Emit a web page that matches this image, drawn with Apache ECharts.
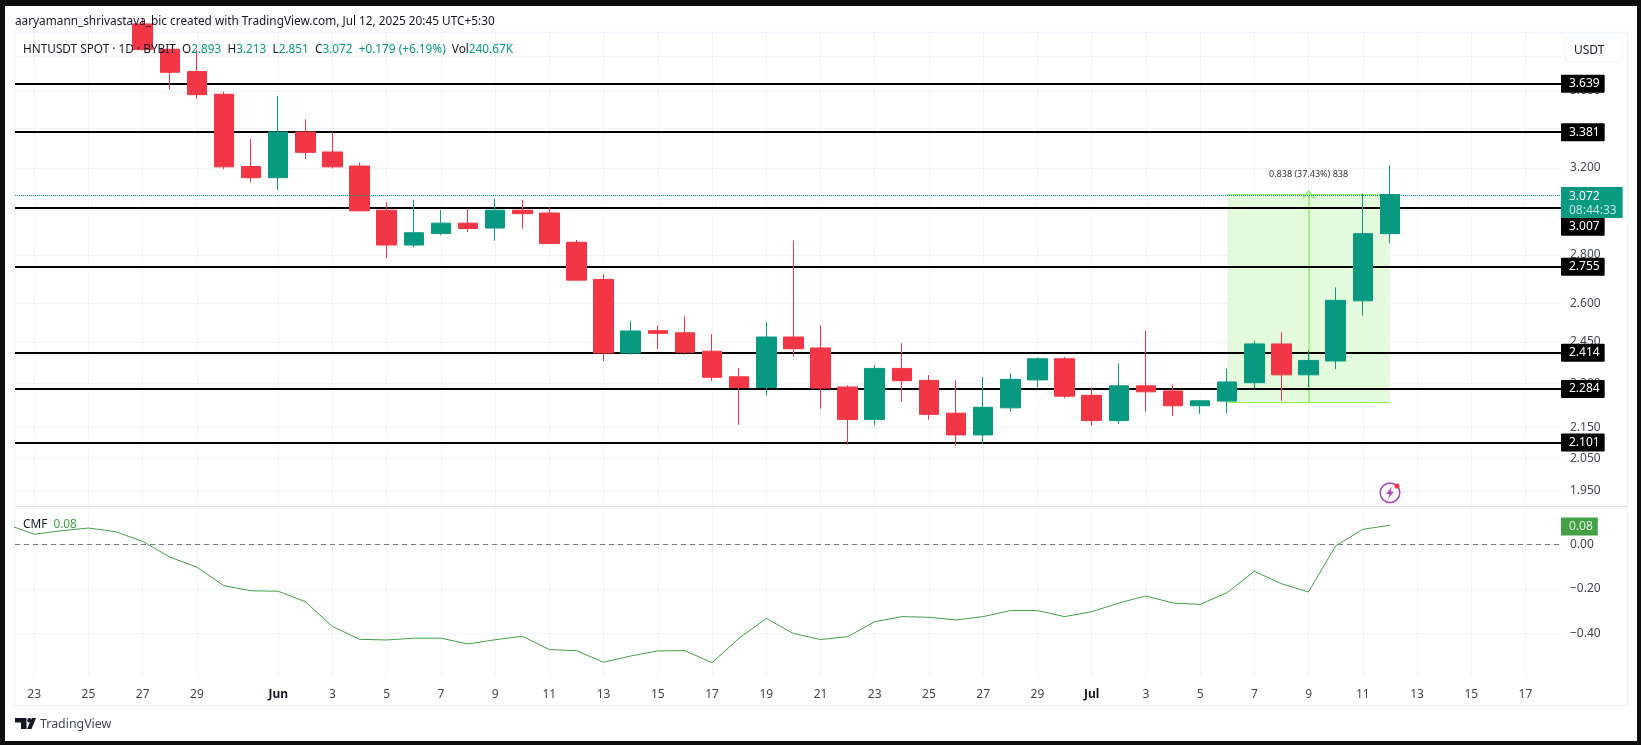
<!DOCTYPE html>
<html>
<head>
<meta charset="utf-8">
<style>html,body{margin:0;padding:0;background:#fff}#chart{width:1641px;height:745px}</style>
<script src="https://cdn.jsdelivr.net/npm/echarts@6/dist/echarts.min.js"></script>
</head>
<body>
<div id="chart"></div>
<script>
// days on the x axis, index 0 is May 22
var dates = ['May 22','May 23','May 24','May 25','May 26','May 27','May 28','May 29','May 30','May 31',
  'Jun 1','Jun 2','Jun 3','Jun 4','Jun 5','Jun 6','Jun 7','Jun 8','Jun 9','Jun 10','Jun 11','Jun 12','Jun 13','Jun 14','Jun 15',
  'Jun 16','Jun 17','Jun 18','Jun 19','Jun 20','Jun 21','Jun 22','Jun 23','Jun 24','Jun 25','Jun 26','Jun 27','Jun 28','Jun 29','Jun 30',
  'Jul 1','Jul 2','Jul 3','Jul 4','Jul 5','Jul 6','Jul 7','Jul 8','Jul 9','Jul 10','Jul 11','Jul 12'];
var tickDays = [1,3,5,7,10,12,14,16,18,20,22,24,26,28,30,32,34,36,38,40,42,44,46,48,50,52,54,56];
var tickLabels = ['23','25','27','29','Jun','3','5','7','9','11','13','15','17','19','21','23','25','27','29','Jul','3','5','7','9','11','13','15','17'];

// candles start on May 27, earlier ones are above the visible range
var firstCandleDay = dates.indexOf('May 27');
var opens = [3.99,3.838,3.709,3.582,3.207,
  3.152,3.381,3.279,3.209,2.999,2.843,2.894,2.94,2.918,2.999,2.986,2.855,2.697,2.409,2.493,2.485,2.416,2.323,2.285,2.469,2.428,2.287,2.176,2.353,2.31,2.197,2.125,2.215,2.312,2.388,
  2.258,2.172,2.291,2.273,2.222,2.238,2.302,2.443,2.33,2.38,2.61,2.893];
var closes = [3.836,3.705,3.58,3.205,3.152,
  3.381,3.277,3.205,2.996,2.843,2.897,2.94,2.916,2.999,2.983,2.85,2.694,2.409,2.492,2.483,2.412,2.321,2.285,2.469,2.425,2.283,2.176,2.353,2.309,2.193,2.125,2.217,2.314,2.388,2.255,
  2.172,2.291,2.27,2.222,2.239,2.3045,2.443,2.33,2.382,2.612,2.893,3.072];
var lows = [3.836,3.61,3.557,3.193,3.128,
  3.094,3.243,3.197,2.996,2.786,2.833,2.887,2.901,2.862,2.915,2.85,2.694,2.38,2.403,2.424,2.403,2.308,2.158,2.258,2.395,2.212,2.093,2.158,2.236,2.175,2.09,2.096,2.202,2.285,2.248,
  2.154,2.161,2.202,2.188,2.195,2.197,2.281,2.239,2.287,2.35,2.551,2.851];
var highs = [4.02,3.84,3.834,3.597,3.345,
  3.573,3.447,3.38,3.226,3.036,3.047,2.999,3.007,3.052,3.047,3.012,2.865,2.718,2.531,2.514,2.549,2.48,2.355,2.5265,2.862,2.514,2.293,2.365,2.445,2.329,2.312,2.322,2.336,2.393,2.395,
  2.285,2.371,2.493,2.295,2.242,2.352,2.455,2.487,2.418,2.664,3.076,3.213];

// CMF indicator, one value per day
var cmf = [0.089,0.045,0.061,0.073,0.057,0.013,-0.057,-0.103,-0.186,-0.209,
  -0.211,-0.258,-0.369,-0.427,-0.43,-0.422,-0.422,-0.448,-0.429,-0.413,-0.473,-0.478,-0.53,-0.502,-0.479,-0.478,-0.532,-0.422,-0.333,-0.401,-0.428,-0.415,-0.348,-0.325,-0.328,-0.34,-0.325,-0.298,-0.298,-0.325,
  -0.303,-0.264,-0.232,-0.264,-0.27,-0.217,-0.121,-0.177,-0.214,-0.007,0.067,0.086];

var priceLabels = [1.95,2.05,2.15,2.3,2.45,2.6,2.8,3.2,3.6];
var priceGridOnly = [3.0,3.4,3.8];
var levels = [3.639,3.381,3.007,2.755,2.414,2.284,2.101];
var cmfTicks = [-0.4,-0.2,0];
var lastPrice = 3.072;
var measureLow = 2.234;

var GREEN = '#089981', RED = '#F23645', GRID = '#f0f3fa', TEXT = '#434651', MEASURE = '#8fec66', CMF = '#43a047';
var FONT = '"Noto Sans", sans-serif';

var candles = opens.map(function (o, i) {
  return [i + firstCandleDay, o, closes[i], lows[i], highs[i]];
});
var cmfLine = cmf.map(function (v, i) { return [i, v]; });

// price ticks are markLines, the log axis itself only gives powers of ten
var tickLines = priceLabels.map(function (p) {
  return { yAxis: p, label: { formatter: p.toFixed(3) } };
}).concat(priceGridOnly.map(function (p) {
  return { yAxis: p, label: { show: false } };
}));

var levelLines = levels.map(function (p) {
  var d = { yAxis: p, label: { formatter: p.toFixed(3) } };
  if (p === 3.007) d.label.offset = [0, 19]; // pushed down by the last price box
  return d;
});

function xAxisFor(idx, showLabels) {
  return {
    type: 'value', gridIndex: idx, min: 0.292, max: 57.31,
    axisLine: { show: false },
    axisTick: { show: false, customValues: tickDays },
    splitLine: { show: true, lineStyle: { color: GRID, width: 1 } },
    axisLabel: {
      show: showLabels, customValues: tickDays, margin: 12, fontFamily: FONT, fontSize: 12, color: TEXT,
      hideOverlap: false,
      formatter: function (v) {
        var t = tickLabels[tickDays.indexOf(v)];
        return (t === 'Jun' || t === 'Jul') ? '{b|' + t + '}' : t;
      },
      rich: { b: { fontFamily: FONT, fontSize: 12, fontWeight: 'bold', color: '#131722' } }
    }
  };
}

function box(x, y, w, h, color) {
  return { type: 'rect', z: 100, silent: true, shape: { x: x, y: y, width: w, height: h }, style: { fill: color } };
}

var header = '{d|HNTUSDT SPOT · 1D · BYBIT}  {d|O}{v|2.893}  {d|H}{v|3.213}  {d|L}{v|2.851}  {d|C}{v|3.072}  {v|+0.179 (+6.19%)}  {d|Vol}{v|240.67K}';
var SMALL = '11.8px ' + FONT;

var option = {
  backgroundColor: '#ffffff',
  animation: false,
  tooltip: { show: false },
  grid: [
    { left: 15, top: 33, width: 1546, height: 474 },
    { left: 15, top: 507, width: 1546, height: 169.7 }
  ],
  xAxis: [xAxisFor(0, false), xAxisFor(1, true)],
  yAxis: [
    {
      type: 'log', gridIndex: 0, position: 'right', min: 1.9026, max: 3.935,
      axisLine: { show: false }, axisTick: { show: false }, axisLabel: { show: false }, splitLine: { show: false }
    },
    {
      type: 'value', gridIndex: 1, position: 'right', min: -0.595, max: 0.1676,
      axisLine: { show: false },
      axisTick: { show: false, customValues: cmfTicks },
      splitLine: { show: true, lineStyle: { color: GRID, width: 1 } },
      axisLabel: {
        customValues: cmfTicks, margin: 9, fontFamily: FONT, fontSize: 12, color: TEXT, padding: [6, 0, 0, 0],
        formatter: function (v) { return v.toFixed(2).replace('-', '\u2212'); }
      }
    }
  ],
  series: [
    // price grid + tick labels
    {
      type: 'line', xAxisIndex: 0, yAxisIndex: 0, data: [], silent: true,
      markLine: {
        silent: true, symbol: 'none', z: 1, animation: false,
        lineStyle: { color: GRID, width: 1, type: 'solid' },
        label: { position: 'end', distance: 9, fontFamily: FONT, fontSize: 12, color: TEXT, padding: [6, 0, 0, 0] },
        data: tickLines
      }
    },
    // measure tool: box and arrow
    {
      type: 'line', xAxisIndex: 0, yAxisIndex: 0, data: [], silent: true,
      markArea: {
        silent: true, z: 2,
        itemStyle: { color: '#e3fbdc' },
        label: { show: true, position: 'top', distance: 16, formatter: '0.838 (37.43%) 838', fontFamily: FONT, fontSize: 9, color: '#333' },
        data: [[{ coord: [45, measureLow] }, { coord: [51, lastPrice] }]]
      },
      markLine: {
        silent: true, z: 3, symbol: 'none', label: { show: false },
        lineStyle: { color: MEASURE, width: 1, type: 'solid' },
        data: [
          [{ coord: [45, lastPrice] }, { coord: [51, lastPrice] }],
          [{ coord: [45, measureLow] }, { coord: [51, measureLow] }],
          [
            { coord: [48, measureLow], symbol: 'none', lineStyle: { width: 1.5 } },
            { coord: [48, lastPrice], symbol: 'path://M0 8L6 0L12 8L10.8 9L6 2.6L1.2 9Z', symbolSize: [13, 9], lineStyle: { width: 1.5 } }
          ]
        ]
      }
    },
    // support / resistance levels
    {
      type: 'line', xAxisIndex: 0, yAxisIndex: 0, data: [], silent: true,
      markLine: {
        silent: true, symbol: 'none', z: 3,
        lineStyle: { color: '#000', width: 2, type: 'solid' },
        label: {
          position: 'end', distance: 0, fontFamily: FONT, fontSize: 12, color: '#fff',
          backgroundColor: '#000', padding: [4, 5, 2, 8], borderRadius: 1
        },
        data: levelLines
      }
    },
    {
      type: 'candlestick', xAxisIndex: 0, yAxisIndex: 0, z: 4, silent: true,
      barWidth: 20,
      encode: { x: 0, y: [1, 2, 3, 4] },
      itemStyle: { color: GREEN, color0: RED, borderColor: GREEN, borderColor0: RED, borderWidth: 1 },
      data: candles
    },
    // last price dotted line and box
    {
      type: 'line', xAxisIndex: 0, yAxisIndex: 0, data: [], silent: true,
      markLine: {
        silent: true, symbol: 'none', z: 5,
        lineStyle: { color: GREEN, width: 1, type: 'dotted' },
        label: {
          position: 'end', distance: 0, backgroundColor: GREEN, padding: [2, 6, 0, 8], fontFamily: FONT, offset: [0, 7.5],
          formatter: '{a|3.072}\n{b|08:44:33}',
          rich: {
            a: { fontFamily: FONT, fontSize: 12, color: '#fff', lineHeight: 15 },
            b: { fontFamily: FONT, fontSize: 12, color: '#c2e6df', lineHeight: 14 }
          }
        },
        data: [{ yAxis: lastPrice }]
      }
    },
    // CMF pane
    {
      type: 'line', xAxisIndex: 1, yAxisIndex: 1, z: 4, silent: true,
      showSymbol: false, symbol: 'none',
      lineStyle: { color: CMF, width: 1 },
      data: cmfLine,
      markLine: {
        silent: true, symbol: 'none', z: 3,
        data: [
          { yAxis: 0, label: { show: false }, lineStyle: { color: '#787b86', width: 1, type: [5, 4] } },
          {
            yAxis: 0.084,
            lineStyle: { color: 'rgba(0,0,0,0)', width: 0 },
            label: {
              show: true, position: 'end', distance: 0, formatter: '0.08', fontFamily: FONT, fontSize: 12, color: '#e3f2e4',
              backgroundColor: CMF, padding: [4, 5, 2, 8]
            }
          }
        ]
      }
    }
  ],
  graphic: [
    // outer black frame
    box(0, 0, 1641, 6, '#0d0d0d'),
    box(0, 741, 1641, 4, '#0d0d0d'),
    box(0, 0, 5, 745, '#0d0d0d'),
    box(1637, 0, 4, 745, '#0d0d0d'),
    // pane frame and separator
    { type: 'rect', z: -1, silent: true, shape: { x: 14.5, y: 32.5, width: 1613, height: 673 }, style: { fill: 'none', stroke: GRID, lineWidth: 1.5 } },
    { type: 'line', z: 1, silent: true, shape: { x1: 15, y1: 506.5, x2: 1627, y2: 506.5 }, style: { stroke: '#e0e3eb', lineWidth: 1 } },
    // texts
    { type: 'text', z: 100, silent: true, x: 15, y: 16, style: { text: 'aaryamann_shrivastava_bic created with TradingView.com, Jul 12, 2025 20:45 UTC+5:30', font: SMALL, fill: '#131722' } },
    { type: 'text', z: 100, silent: true, x: 23, y: 44, style: {
      text: header, font: SMALL,
      rich: { d: { fill: '#131722', font: SMALL }, v: { fill: GREEN, font: SMALL } }
    } },
    { type: 'text', z: 100, silent: true, x: 23, y: 519, style: {
      text: '{d|CMF}  {v|0.08}', font: SMALL,
      rich: { d: { fill: '#131722', font: SMALL }, v: { fill: CMF, font: SMALL } }
    } },
    // currency button
    { type: 'rect', z: 100, silent: true, shape: { x: 1565, y: 37.5, width: 57.5, height: 25, r: 4 }, style: { fill: '#fff', stroke: GRID, lineWidth: 1 } },
    { type: 'text', z: 101, silent: true, x: 1574, y: 45, style: { text: 'USDT', font: '12px ' + FONT, fill: '#131722' } },
    // bolt icon
    { type: 'circle', z: 100, silent: true, shape: { cx: 1390, cy: 492.7, r: 9.8 }, style: { fill: '#fff', stroke: '#ab47bc', lineWidth: 1.5 } },
    { type: 'polygon', z: 100, silent: true, shape: { points: [[1392, 486.5], [1386, 494], [1389.5, 494], [1388, 499], [1394, 491.5], [1390.5, 491.5]] }, style: { fill: '#ab47bc' } },
    { type: 'circle', z: 101, silent: true, shape: { cx: 1397, cy: 486, r: 2.6 }, style: { fill: '#f23645' } },
    // TradingView logo
    { type: 'polygon', z: 100, silent: true, shape: { points: [[15, 718], [26.5, 718], [26.5, 729], [21, 729], [21, 722.5], [15, 722.5]] }, style: { fill: '#131722' } },
    { type: 'circle', z: 100, silent: true, shape: { cx: 29.5, cy: 720.2, r: 2.2 }, style: { fill: '#131722' } },
    { type: 'polygon', z: 100, silent: true, shape: { points: [[32, 718], [36, 718], [31.5, 729], [27, 729]] }, style: { fill: '#131722' } },
    { type: 'text', z: 100, silent: true, x: 40, y: 718, style: { text: 'TradingView', font: '12.4px ' + FONT, fill: TEXT } }
  ]
};

var chart = echarts.init(document.getElementById('chart'));
chart.setOption(option);
</script>
</body>
</html>
